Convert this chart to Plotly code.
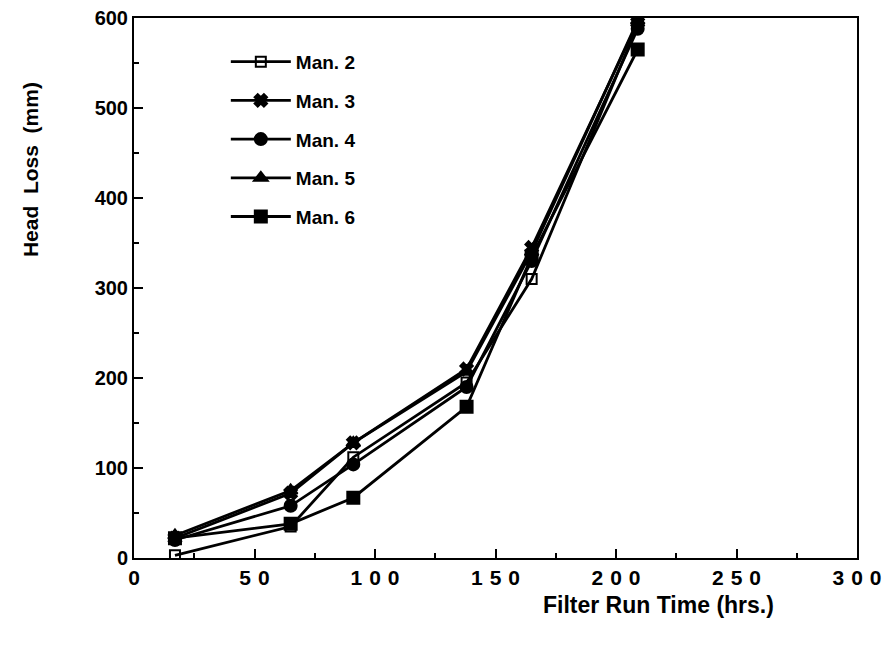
import plotly.graph_objects as go

# Filter run time (hrs.) at each sampling point
run_time = [17, 65, 91, 138, 165, 209]

# Head loss (mm) per manifold
man2 = [3, 35, 112, 195, 310, 592]
man3 = [22, 72, 128, 210, 345, 595]
man4 = [20, 58, 104, 190, 330, 588]
man5 = [25, 75, 128, 207, 340, 597]
man6 = [22, 38, 67, 168, 335, 565]

series_names = ["Man. 2", "Man. 3", "Man. 4", "Man. 5", "Man. 6"]
series_values = [man2, man3, man4, man5, man6]
symbols = ["square-open", "x", "circle", "triangle-up", "square"]
marker_sizes = [10, 11, 12, 12, 12]

x_ticks = [0, 50, 100, 150, 200, 250, 300]
y_ticks = [0, 100, 200, 300, 400, 500, 600]

FONT = "Liberation Sans, Arial, sans-serif"
SPACE = "\u2004"  # widened digit spacing on the time axis
GAP = "\u00a0\u00a0"  # wide word gaps in the head-loss title

fig = go.Figure()
for name, vals, sym, sz in zip(series_names, series_values, symbols, marker_sizes):
    fig.add_trace(go.Scatter(
        x=run_time, y=vals, name=name, mode="lines+markers",
        legendgroup=name,
        line=dict(color="black", width=2.8),
        marker=dict(symbol=sym, size=sz, color="black",
                    line=dict(color="black", width=2)),
    ))

axis_common = dict(
    showgrid=False, zeroline=False, showline=True, linecolor="black",
    linewidth=2, mirror=True, ticks="inside", tickcolor="black",
    tickwidth=2, ticklen=9, automargin=False,
)

fig.update_xaxes(range=[0, 300], tickvals=x_ticks,
                 ticktext=[SPACE.join(str(v)) for v in x_ticks],
                 tickfont=dict(family=FONT, size=21, color="black", weight="bold"),
                 minor=dict(ticks="inside", dtick=25, ticklen=5, tickwidth=2, tickcolor="black"),
                 **axis_common)
fig.update_yaxes(range=[0, 600], tickvals=y_ticks, ticktext=[str(v) for v in y_ticks],
                 tickfont=dict(family=FONT, size=20, color="black", weight="bold"),
                 minor=dict(ticks="inside", dtick=50, ticklen=5, tickwidth=2, tickcolor="black"),
                 **axis_common)

fig.add_annotation(text=f"Head{GAP}Loss{GAP}(mm)", xref="paper", yref="paper",
                   x=-0.144, y=0.72, xanchor="center", yanchor="middle",
                   textangle=-90, showarrow=False,
                   font=dict(family=FONT, size=21, color="black", weight="bold"))
fig.add_annotation(text="Filter Run Time (hrs.)", xref="paper", yref="paper",
                   x=0.725, y=-0.087, xanchor="center", yanchor="middle", showarrow=False,
                   font=dict(family=FONT, size=23, color="black", weight="bold"))

fig.update_layout(
    width=888, height=646,
    margin=dict(l=134, r=31, t=18, b=88),
    paper_bgcolor="white", plot_bgcolor="white",
    showlegend=True,
    legend=dict(x=0.127, y=0.954, xanchor="left", yanchor="top",
                bgcolor="rgba(0,0,0,0)", borderwidth=0,
                font=dict(family=FONT, size=19, color="black", weight="bold"),
                tracegroupgap=11, itemwidth=60),
)

fig.write_html("out.html")
